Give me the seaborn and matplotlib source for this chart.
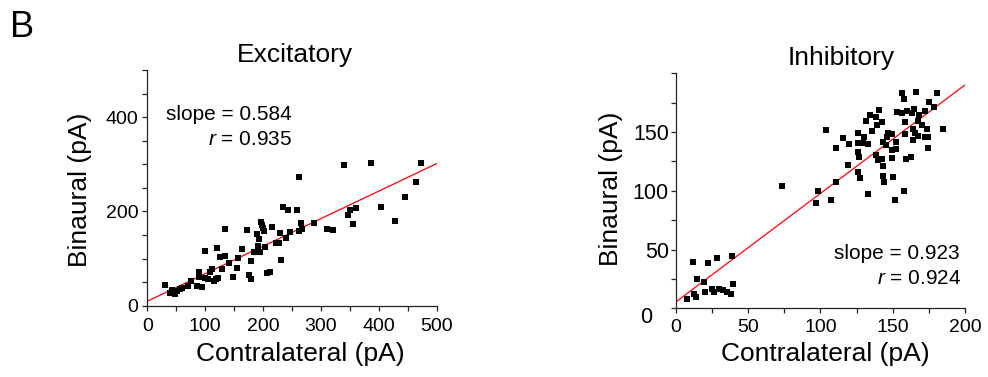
import matplotlib
matplotlib.use("Agg")
import matplotlib.pyplot as plt
from matplotlib.ticker import MultipleLocator, FixedLocator
from matplotlib.transforms import ScaledTranslation
import numpy as np
import pandas as pd
import seaborn as sns

# Excitatory currents: contralateral vs binaural (pA)
excit_contra = [31, 40, 43, 48, 52, 56, 60, 71, 76, 85,
                90, 90, 95, 99, 100, 105, 108, 112, 116, 121,
                119, 122, 125, 129, 134, 134, 141, 148, 155, 157,
                164, 173, 176, 179, 179, 184, 191, 190, 193, 194,
                197, 199, 200, 201, 204, 206, 212, 216, 222, 227,
                231, 230, 240, 246, 234, 243, 259, 262, 339, 386,
                473, 464, 446, 428, 404, 361, 351, 347, 355, 310,
                320, 288, 265, 267, 262]
excit_binaural = [44, 26, 33, 25, 32, 35, 37, 42, 52, 42,
                  72, 60, 40, 117, 59, 57, 72, 78, 53, 122,
                  56, 58, 103, 78, 105, 162, 91, 60, 81, 102,
                  120, 161, 65, 56, 95, 113, 127, 152, 141, 113,
                  178, 171, 164, 158, 124, 69, 71, 168, 134, 134,
                  98, 154, 144, 156, 209, 203, 204, 274, 298, 303,
                  302, 262, 231, 180, 210, 207, 202, 192, 173, 163,
                  161, 176, 175, 163, 158]

# Inhibitory currents: contralateral vs binaural (pA)
inhib_contra = [7.4, 12.5, 13.8, 12.0, 14.7, 19.6, 20.0, 22.4, 24.9, 26.5,
                28.2, 30.0, 32.7, 35.5, 37.8, 38.5, 39.7, 73.1,
                104.0, 115.8, 119.5, 110.7, 119.2, 111.0, 98.5, 96.9, 107.3, 126.2,
                126.2, 129.6, 130.3, 133.0, 126.2, 126.9, 126.0, 127.3, 131.3, 134.0,
                133.0,
                156.2, 165.9, 180.8, 158.0, 175.3, 140.7, 178.5, 152.7, 156.6, 159.7,
                163.1, 164.7, 168.4, 172.3, 138.4, 142.4, 139.3, 135.6, 158.5, 167.7,
                170.0, 158.5, 163.8, 165.4, 167.7, 163.8, 172.3, 174.6, 173.5, 185.0,
                146.9, 149.3, 145.8, 143.0, 145.3, 152.2, 149.7, 152.2, 138.4, 140.0,
                142.4, 149.3, 159.0, 162.4, 143.0, 174.6, 143.5, 150.4, 144.0, 158.0,
                151.3]
inhib_binaural = [8.2, 12.2, 9.9, 39.0, 25.0, 22.4, 13.6, 38.8, 16.4, 13.6,
                  42.5, 16.7, 15.6, 13.6, 12.2, 44.8, 20.7, 104.5,
                  151.5, 145.2, 139.8, 136.4, 121.7, 107.7, 99.6, 89.9, 92.2, 148.9,
                  141.0, 141.0, 145.5, 139.6, 133.0, 128.5, 115.7, 110.9, 159.4, 164.5,
                  97.3,
                  183.5, 184.1, 183.5, 177.9, 175.6, 168.8, 171.6, 166.8, 166.0, 167.9,
                  166.0, 169.6, 164.5, 168.2, 162.5, 158.8, 156.0, 151.1, 158.8, 159.7,
                  156.0, 148.1, 152.6, 149.4, 146.6, 143.2, 146.0, 146.0, 152.3, 152.6,
                  148.9, 148.3, 146.0, 141.8, 139.0, 141.3, 134.7, 135.3, 130.5, 126.2,
                  127.0, 127.7, 127.0, 129.0, 121.1, 136.2, 112.9, 112.0, 107.7, 99.5,
                  91.9]

# Linear fits (slope as reported, intercept of the fitted line)
excit_slope, excit_intercept, excit_r = 0.584, 9.5, 0.935
inhib_slope, inhib_intercept, inhib_r = 0.923, 5.5, 0.924

excit_df = pd.DataFrame({"contra": excit_contra, "binaural": excit_binaural})
inhib_df = pd.DataFrame({"contra": inhib_contra, "binaural": inhib_binaural})

sns.set_theme(style="ticks")
plt.rcParams["font.family"] = ["Liberation Sans", "DejaVu Sans"]
plt.rcParams["mathtext.fontset"] = "custom"
plt.rcParams["mathtext.rm"] = "Liberation Sans"
plt.rcParams["mathtext.it"] = "Liberation Sans:italic"
plt.rcParams["text.color"] = "black"
plt.rcParams["axes.labelcolor"] = "black"
plt.rcParams["axes.titlecolor"] = "black"
plt.rcParams["xtick.labelcolor"] = "black"
plt.rcParams["ytick.labelcolor"] = "black"

fig = plt.figure(figsize=(9.88, 3.77), dpi=100)
fig.patch.set_facecolor("white")

ax1 = fig.add_axes([0.1491, 0.1891, 0.2929, 0.6252])
ax2 = fig.add_axes([0.6842, 0.1822, 0.2925, 0.6233])


def style_axes(ax):
    ax.set_facecolor("white")
    for side in ("top", "right"):
        ax.spines[side].set_visible(False)
    for side in ("left", "bottom"):
        ax.spines[side].set_color("#222222")
        ax.spines[side].set_linewidth(0.9)
    ax.tick_params(which="both", direction="out", length=3.6, width=0.9,
                   color="#222222", labelcolor="black")
    ax.grid(False)


def draw_panel(ax, df, slope, intercept, xmax):
    sns.scatterplot(data=df, x="contra", y="binaural", ax=ax, marker="s",
                    s=19, color="black", linewidth=0, legend=False, zorder=3)
    fit = pd.DataFrame({"contra": [0, xmax]})
    fit["binaural"] = slope * fit["contra"] + intercept
    sns.lineplot(data=fit, x="contra", y="binaural", ax=ax, color="#ff0000",
                 linewidth=0.9, zorder=2)


# Excitatory panel
draw_panel(ax1, excit_df, excit_slope, excit_intercept, 500)
style_axes(ax1)
ax1.set_xlim(0, 500)
ax1.set_ylim(0, 500)
ax1.xaxis.set_major_locator(MultipleLocator(100))
ax1.xaxis.set_minor_locator(MultipleLocator(50))
ax1.yaxis.set_major_locator(FixedLocator([0, 200, 400]))
ax1.yaxis.set_minor_locator(MultipleLocator(50))
ax1.tick_params(axis="x", labelsize=14, pad=5)
ax1.tick_params(axis="y", labelsize=14, pad=3)
ax1.set_title("Excitatory", fontsize=19, pad=6, x=0.51)
ax1.set_xlabel("Contralateral (pA)", fontsize=19)
ax1.set_ylabel("Binaural (pA)", fontsize=19)
ax1.xaxis.set_label_coords(0.528, -0.154)
ax1.yaxis.set_label_coords(-0.191, 0.49)
ax1.text(0.5, 0.788, f"slope = {excit_slope:.3f}", transform=ax1.transAxes,
         ha="right", va="baseline", fontsize=15)
ax1.text(0.5, 0.682, rf"$\mathit{{r}}$ = {excit_r:.3f}", transform=ax1.transAxes,
         ha="right", va="baseline", fontsize=15)

# Inhibitory panel
draw_panel(ax2, inhib_df, inhib_slope, inhib_intercept, 200)
style_axes(ax2)
ax2.set_xlim(0, 200)
ax2.set_ylim(0, 200)
ax2.xaxis.set_major_locator(MultipleLocator(50))
ax2.xaxis.set_minor_locator(MultipleLocator(25))
ax2.yaxis.set_major_locator(FixedLocator([0, 50, 100, 150]))
ax2.yaxis.set_minor_locator(MultipleLocator(25))
ax2.tick_params(axis="x", labelsize=14, pad=4)
ax2.tick_params(axis="y", labelsize=15.5, pad=1.5)
ax2.set_title("Inhibitory", fontsize=19, pad=6, x=0.571)
ax2.set_xlabel("Contralateral (pA)", fontsize=19)
ax2.set_ylabel("Binaural (pA)", fontsize=19)
ax2.xaxis.set_label_coords(0.516, -0.143)
ax2.yaxis.set_label_coords(-0.183, 0.51)
ax2.text(0.98, 0.2085, f"slope = {inhib_slope:.3f}", transform=ax2.transAxes,
         ha="right", va="baseline", fontsize=15)
ax2.text(0.989, 0.103, rf"$\mathit{{r}}$ = {inhib_r:.3f}", transform=ax2.transAxes,
         ha="right", va="baseline", fontsize=15)

# The y-axis zero sits a little lower and further left, off the corner
zero_label = ax2.yaxis.get_major_ticks()[0].label1
zero_label.set_transform(zero_label.get_transform()
                         + ScaledTranslation(-12 / 72, -5 / 72, fig.dpi_scale_trans))

fig.text(0.0101, 1 - 37.3 / 377, "B", fontsize=26, ha="left", va="baseline")

fig.savefig("out.png", dpi=100, facecolor="white")
